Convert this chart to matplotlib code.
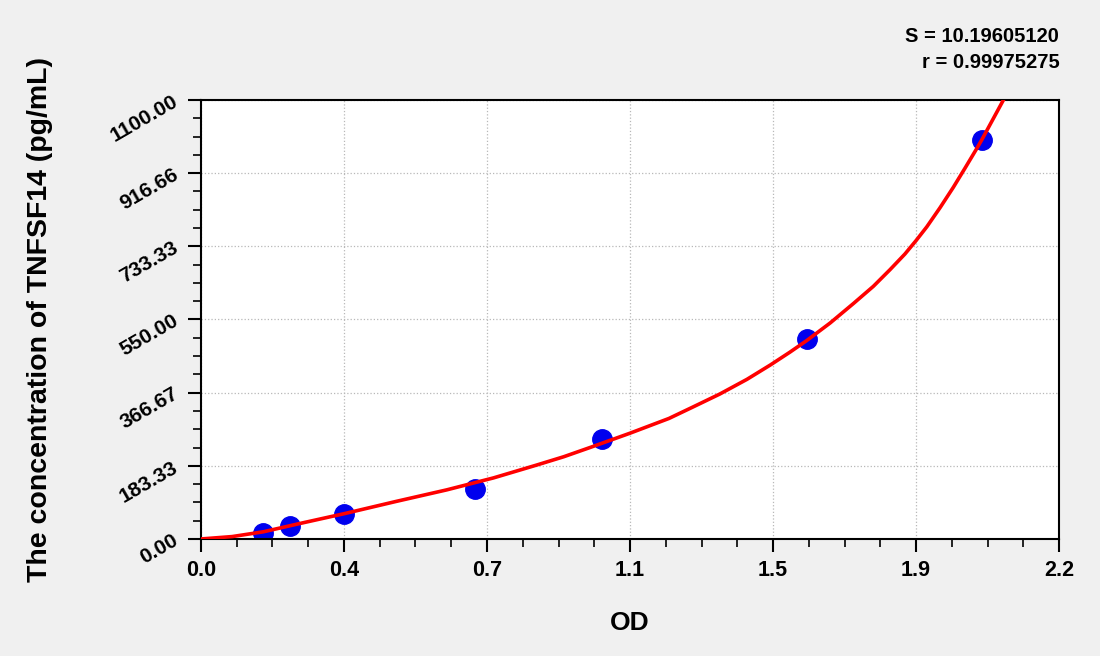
import numpy as np
import matplotlib
matplotlib.use('Agg')
from matplotlib import pyplot as plt
from matplotlib.ticker import AutoMinorLocator, FixedLocator

# standard points (OD, concentration)
od = [0.160, 0.228, 0.367, 0.703, 1.028, 1.554, 2.003]
conc = [15.6, 31.25, 62.5, 125.0, 250.0, 500.0, 1000.0]

# fitted curve
curve_od = [0.00, 0.08, 0.16, 0.25, 0.37, 0.50, 0.63, 0.75, 0.86, 0.93,
            1.00, 1.10, 1.20, 1.26, 1.33, 1.40, 1.46, 1.51, 1.553, 1.613,
            1.673, 1.724, 1.767, 1.805, 1.833, 1.861, 1.895, 1.929, 1.959,
            1.989, 2.002, 2.032, 2.062]
curve_conc = [0, 6, 18, 38, 64, 94, 123, 153, 185, 206,
              230, 265, 302, 330, 363, 400, 436, 468, 497, 541,
              590, 633, 675, 714, 747, 782, 830, 881, 929,
              978, 1000, 1054, 1108]

x_ticks = [0.0, 0.3667, 0.7333, 1.1, 1.4667, 1.8333, 2.2]
x_labels = ['0.0', '0.4', '0.7', '1.1', '1.5', '1.9', '2.2']
y_ticks = [0.0, 183.33, 366.67, 550.0, 733.33, 916.66, 1100.0]
y_labels = ['0.00', '183.33', '366.67', '550.00', '733.33', '916.66', '1100.00']

stats = ['S = 10.19605120', 'r = 0.99975275']

plt.rcParams['font.family'] = ['Liberation Sans', 'DejaVu Sans']
plt.rcParams['font.weight'] = 'bold'

fig = plt.figure(figsize=(11, 6.56), dpi=100, facecolor='#f0f0f0')
ax = fig.add_axes([0.1827, 0.1784, 0.78, 0.6692])
ax.set_facecolor('white')

ax.plot(curve_od, curve_conc, color='#ff0000', lw=2.6, zorder=3,
        solid_joinstyle='round', solid_capstyle='round')
ax.plot(od, conc, 'o', color='#0000ee', ms=14, zorder=2)

ax.set_xlim(0, 2.2)
ax.set_ylim(0, 1100)
ax.xaxis.set_major_locator(FixedLocator(x_ticks))
ax.set_xticklabels(x_labels, fontsize=15.5, fontweight='bold')
ax.yaxis.set_major_locator(FixedLocator(y_ticks))
ax.set_yticklabels(y_labels, fontsize=15, fontweight='bold', rotation=30,
                   ha='right', va='center', rotation_mode='anchor')
ax.xaxis.set_minor_locator(AutoMinorLocator(4))
ax.yaxis.set_minor_locator(AutoMinorLocator(4))
ax.tick_params(which='major', direction='out', length=9.5, width=1.5, pad=6)
ax.tick_params(which='minor', direction='out', length=6, width=1.2)
ax.tick_params(axis='y', pad=8)
ax.grid(True, which='major', color='#b8b8b8', ls=':', lw=0.9)
for sp in ax.spines.values():
    sp.set_linewidth(1.5)

ax.set_xlabel('OD', fontsize=19, fontweight='bold', va='center')
ax.xaxis.set_label_coords(0.5, -0.191)
ax.set_ylabel('The concentration of TNFSF14 (pg/mL)', fontsize=20.5,
              fontweight='bold', va='center')
ax.yaxis.set_label_coords(-0.1877, 0.5)

fig.text(0.963, 0.945, stats[0], ha='right', va='center', fontsize=14.5,
         fontweight='bold')
fig.text(0.963, 0.904, stats[1], ha='right', va='center', fontsize=14.5,
         fontweight='bold')

fig.savefig('out.png', dpi=100, facecolor=fig.get_facecolor())
